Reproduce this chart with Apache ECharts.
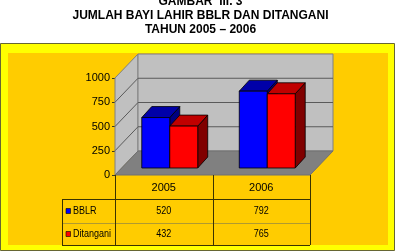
<!DOCTYPE html>
<html>
<head>
<meta charset="utf-8">
<script src="https://cdn.jsdelivr.net/npm/echarts@6/dist/echarts.min.js"></script>
<style>
html,body{margin:0;padding:0;background:#fff;}
#c{width:401px;height:251px;}
</style>
</head>
<body>
<div id="c"></div>
<script>
const titleLines = ['GAMBAR  III. 3', 'JUMLAH BAYI LAHIR BBLR DAN DITANGANI', 'TAHUN 2005 \u2013 2006'];
const categories = ['2005', '2006'];
const seriesNames = ['BBLR', 'Ditangani'];
const bblr = [520, 792];
const ditangani = [432, 765];
const yMin = 0, yMax = 1000, yStep = 250;

const FONT = "'Liberation Sans',Arial,sans-serif";
const NARROW_SCALE = 0.82;
const DEPTH = [23, -24];
const BAR_SHIFT = [6, -7];
const BAR_DEPTH = [10, -11];
const colors = [
  {front: '#0000FF', top: '#0000A8', side: '#000080'},
  {front: '#FF0000', top: '#C00000', side: '#800000'}
];

const chart = echarts.init(document.getElementById('c'), null, {renderer: 'canvas'});

function wallsRender(params, api) {
  const cs = params.coordSys;
  const L = cs.x, R = cs.x + cs.width, T = cs.y, B = cs.y + cs.height;
  const dx = DEPTH[0], dy = DEPTH[1];
  const children = [];
  children.push({type: 'polygon', shape: {points: [[L, T], [L + dx, T + dy], [L + dx, B + dy], [L, B]]},
    style: {fill: '#C0C0C0', stroke: '#808080', lineWidth: 1}});
  children.push({type: 'polygon', shape: {points: [[L + dx, T + dy], [R + dx, T + dy], [R + dx, B + dy], [L + dx, B + dy]]},
    style: {fill: '#C0C0C0', stroke: '#808080', lineWidth: 1}});
  children.push({type: 'polygon', shape: {points: [[L, B], [R, B], [R + dx, B + dy], [L + dx, B + dy]]},
    style: {fill: '#808080', stroke: '#707070', lineWidth: 1}});
  for (let v = yMin + yStep; v < yMax; v += yStep) {
    const y = api.coord([0, v])[1];
    children.push({type: 'polyline', shape: {points: [[L, y], [L + dx, y + dy], [R + dx, y + dy]]},
      style: {fill: null, stroke: '#5a5a5a', lineWidth: 1}});
  }
  return {type: 'group', children: children};
}

function barRender(s) {
  return function (params, api) {
    const c = api.value(0), v = api.value(1);
    const topP = api.coord([c, v]);
    const baseP = api.coord([c, 0]);
    const band = api.size([1, 0])[0];
    const bw = band * 0.287;
    const cx = baseP[0] + BAR_SHIFT[0];
    const x0 = cx - bw + s * bw, x1 = x0 + bw;
    const yb = baseP[1] + BAR_SHIFT[1], yt = topP[1] + BAR_SHIFT[1];
    const dx = BAR_DEPTH[0], dy = BAR_DEPTH[1];
    const col = colors[s];
    const st = {stroke: '#000', lineWidth: 0.8};
    return {type: 'group', children: [
      {type: 'polygon', shape: {points: [[x1, yt], [x1 + dx, yt + dy], [x1 + dx, yb + dy], [x1, yb]]}, style: Object.assign({fill: col.side}, st)},
      {type: 'polygon', shape: {points: [[x0, yt], [x1, yt], [x1 + dx, yt + dy], [x0 + dx, yt + dy]]}, style: Object.assign({fill: col.top}, st)},
      {type: 'rect', shape: {x: x0, y: yt, width: bw, height: yb - yt}, style: Object.assign({fill: col.front}, st)}
    ]};
  };
}

const seriesData = [bblr, ditangani];

chart.setOption({
  animation: false,
  title: {
    text: titleLines.join('\n'), left: 'center', top: -5, padding: 0,
    textStyle: {fontFamily: FONT, fontWeight: 'bold', fontSize: 12, lineHeight: 14, color: '#000'}
  },
  grid: {left: 115, right: 91, top: 78, bottom: 76},
  xAxis: {
    type: 'category', data: categories,
    axisLine: {show: false}, axisTick: {show: false}, splitLine: {show: false},
    axisLabel: {margin: 7, fontFamily: FONT, fontSize: 11, color: '#000'}
  },
  yAxis: {
    type: 'value', min: yMin, max: yMax, interval: yStep,
    axisLine: {show: true, lineStyle: {color: '#3a3a1a', width: 1}},
    axisTick: {show: true, length: 3, lineStyle: {color: '#3a3a1a'}},
    splitLine: {show: false},
    axisLabel: {margin: 5, fontFamily: FONT, fontSize: 11, color: '#000', formatter: v => String(v)}
  },
  series: [
    {type: 'custom', z: 1, renderItem: wallsRender, data: [[0, 0]], silent: true},
    {type: 'custom', z: 3, name: seriesNames[0], renderItem: barRender(0), data: bblr.map((v, i) => [i, v])},
    {type: 'custom', z: 4, name: seriesNames[1], renderItem: barRender(1), data: ditangani.map((v, i) => [i, v])}
  ]
});

const colCenters = categories.map((c, i) => chart.convertToPixel({xAxisIndex: 0}, i));
const band = colCenters[1] - colCenters[0];
const tL = 115, tR = colCenters[colCenters.length - 1] + band / 2;
const legL = 62;
const rowY = [175, 199, 223, 245];
const lineCol = '#3a3300';
const g = [];
g.push({type: 'rect', z: -20, shape: {x: 0.5, y: 43.5, width: 394, height: 207}, style: {fill: '#FFFF00', stroke: '#666633', lineWidth: 1}});
g.push({type: 'rect', z: -19, shape: {x: 8, y: 53, width: 380, height: 192}, style: {fill: '#FFCC00'}});
g.push({type: 'line', z: 10, shape: {x1: legL, y1: rowY[1] + 0.5, x2: tR, y2: rowY[1] + 0.5}, style: {stroke: lineCol, lineWidth: 1}});
g.push({type: 'line', z: 10, shape: {x1: legL, y1: rowY[2] + 0.5, x2: tR, y2: rowY[2] + 0.5}, style: {stroke: '#b09a30', lineWidth: 1}});
g.push({type: 'line', z: 10, shape: {x1: legL, y1: rowY[3] + 0.5, x2: tR, y2: rowY[3] + 0.5}, style: {stroke: lineCol, lineWidth: 1}});
g.push({type: 'line', z: 10, shape: {x1: legL + 0.5, y1: rowY[1], x2: legL + 0.5, y2: rowY[3]}, style: {stroke: lineCol, lineWidth: 1}});
[tL, colCenters[0] + band / 2, tR].forEach(x => {
  g.push({type: 'line', z: 10, shape: {x1: Math.round(x) + 0.5, y1: rowY[0], x2: Math.round(x) + 0.5, y2: rowY[3]}, style: {stroke: lineCol, lineWidth: 1}});
});
seriesData.forEach((arr, s) => {
  const yc = (rowY[s + 1] + rowY[s + 2]) / 2;
  g.push({type: 'rect', z: 10, shape: {x: 66, y: yc - 2.5, width: 4.5, height: 5}, style: {fill: colors[s].front, stroke: '#000', lineWidth: 0.6}});
  g.push({type: 'text', z: 10, x: 73, y: yc, scaleX: NARROW_SCALE, style: {text: seriesNames[s], fontFamily: FONT, fontSize: 11, fill: '#000', verticalAlign: 'middle', align: 'left'}});
  arr.forEach((v, i) => {
    g.push({type: 'text', z: 10, x: colCenters[i], y: yc, scaleX: NARROW_SCALE, style: {text: String(v), fontFamily: FONT, fontSize: 11, fill: '#000', verticalAlign: 'middle', align: 'center'}});
  });
});
chart.setOption({graphic: g});
</script>
</body>
</html>
